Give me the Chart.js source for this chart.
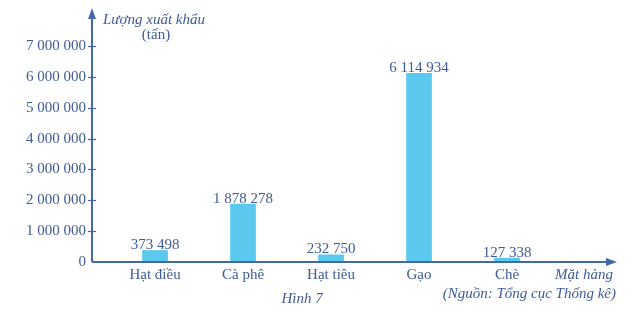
<!DOCTYPE html>
<html>
<head>
<meta charset="utf-8">
<script src="https://cdn.jsdelivr.net/npm/chart.js@4"></script>
<style>
  html, body { margin: 0; padding: 0; background: #fff; }
  canvas { display: block; }
</style>
</head>
<body>
<canvas id="chart" width="642" height="313"></canvas>
<script>
// data
const categories = ['Hạt điều', 'Cà phê', 'Hạt tiêu', 'Gạo', 'Chè'];
const exportTons = [373498, 1878278, 232750, 6114934, 127338];
const yTicks = [0, 1000000, 2000000, 3000000, 4000000, 5000000, 6000000, 7000000];

const textColor = '#3f5b98';
const axisColor = '#4468aa';
const barColor = '#5bc8ee';
const serif = '"Liberation Serif", "DejaVu Serif", serif';

const fmt = v => String(v).replace(/\B(?=(\d{3})+(?!\d))/g, ' ');

// axes, arrows, value labels and captions
const decorations = {
  id: 'decorations',
  afterDraw(chart) {
    const ctx = chart.ctx;
    const area = chart.chartArea;
    const y = chart.scales.y;
    const x0 = area.left, y0 = y.getPixelForValue(0);
    ctx.save();
    ctx.strokeStyle = axisColor;
    ctx.fillStyle = axisColor;
    ctx.lineWidth = 2;
    // y axis
    ctx.beginPath();
    ctx.moveTo(x0, y0);
    ctx.lineTo(x0, area.top + 6);
    ctx.stroke();
    ctx.beginPath();
    ctx.moveTo(x0, area.top - 2);
    ctx.lineTo(x0 - 4, area.top + 9);
    ctx.lineTo(x0 + 4, area.top + 9);
    ctx.closePath();
    ctx.fill();
    // x axis
    ctx.beginPath();
    ctx.moveTo(x0, y0);
    ctx.lineTo(area.right - 6, y0);
    ctx.stroke();
    ctx.beginPath();
    ctx.moveTo(area.right + 2, y0);
    ctx.lineTo(area.right - 9, y0 - 4);
    ctx.lineTo(area.right - 9, y0 + 4);
    ctx.closePath();
    ctx.fill();
    // tick marks crossing y axis
    ctx.lineWidth = 1.2;
    yTicks.slice(1).forEach(v => {
      const py = Math.round(y.getPixelForValue(v)) + 0.5;
      ctx.beginPath();
      ctx.moveTo(x0 - 4, py);
      ctx.lineTo(x0 + 4, py);
      ctx.stroke();
    });

    // value labels
    ctx.fillStyle = textColor;
    ctx.font = '15px ' + serif;
    ctx.textAlign = 'center';
    ctx.textBaseline = 'bottom';
    chart.getDatasetMeta(0).data.forEach((bar, i) => {
      ctx.fillText(fmt(exportTons[i]), bar.x, bar.y + 2);
    });

    // captions
    ctx.font = 'italic 15px ' + serif;
    ctx.textBaseline = 'middle';
    ctx.fillText('Lượng xuất khẩu', x0 + 62, area.top + 10);
    ctx.font = '15px ' + serif;
    ctx.fillText('(tấn)', x0 + 64, area.top + 25);
    ctx.font = 'italic 15px ' + serif;
    ctx.textAlign = 'right';
    ctx.fillText('Mặt hàng', area.right - 2, y0 + 13);
    ctx.fillText('(Nguồn: Tổng cục Thống kê)', area.right + 1, y0 + 32);
    ctx.textAlign = 'center';
    ctx.fillText('Hình 7', 302, y0 + 37);
    ctx.restore();
  }
};

new Chart(document.getElementById('chart'), {
  type: 'bar',
  data: {
    datasets: [{
      data: exportTons.map((v, i) => ({ x: i, y: v })),
      backgroundColor: barColor,
      borderWidth: 0,
      barThickness: 25
    }]
  },
  options: {
    responsive: false,
    animation: false,
    layout: { padding: { left: 0, top: 10, right: 27, bottom: 0 } },
    plugins: { legend: { display: false }, tooltip: { enabled: false } },
    scales: {
      x: {
        type: 'linear',
        offset: false,
        min: -0.716,
        max: 5.227,
        grid: { display: false, drawTicks: false, offset: false },
        border: { display: false },
        afterBuildTicks: s => { s.ticks = categories.map((_, i) => ({ value: i })); },
        afterFit: s => { s.height = 51; s.paddingLeft = 0; s.paddingRight = 0; },
        ticks: {
          autoSkip: false,
          maxRotation: 0,
          padding: 4,
          color: textColor,
          font: { family: serif, size: 15 },
          callback: v => categories[v]
        }
      },
      y: {
        min: 0,
        max: 8170000,
        grid: { display: false, drawTicks: false },
        border: { display: false },
        afterBuildTicks: s => { s.ticks = yTicks.map(v => ({ value: v })); },
        afterFit: s => { s.width = 92; s.paddingTop = 0; s.paddingBottom = 0; },
        ticks: {
          padding: 6,
          color: textColor,
          font: { family: serif, size: 15 },
          callback: v => fmt(v)
        }
      }
    }
  },
  plugins: [decorations]
});
</script>
</body>
</html>
